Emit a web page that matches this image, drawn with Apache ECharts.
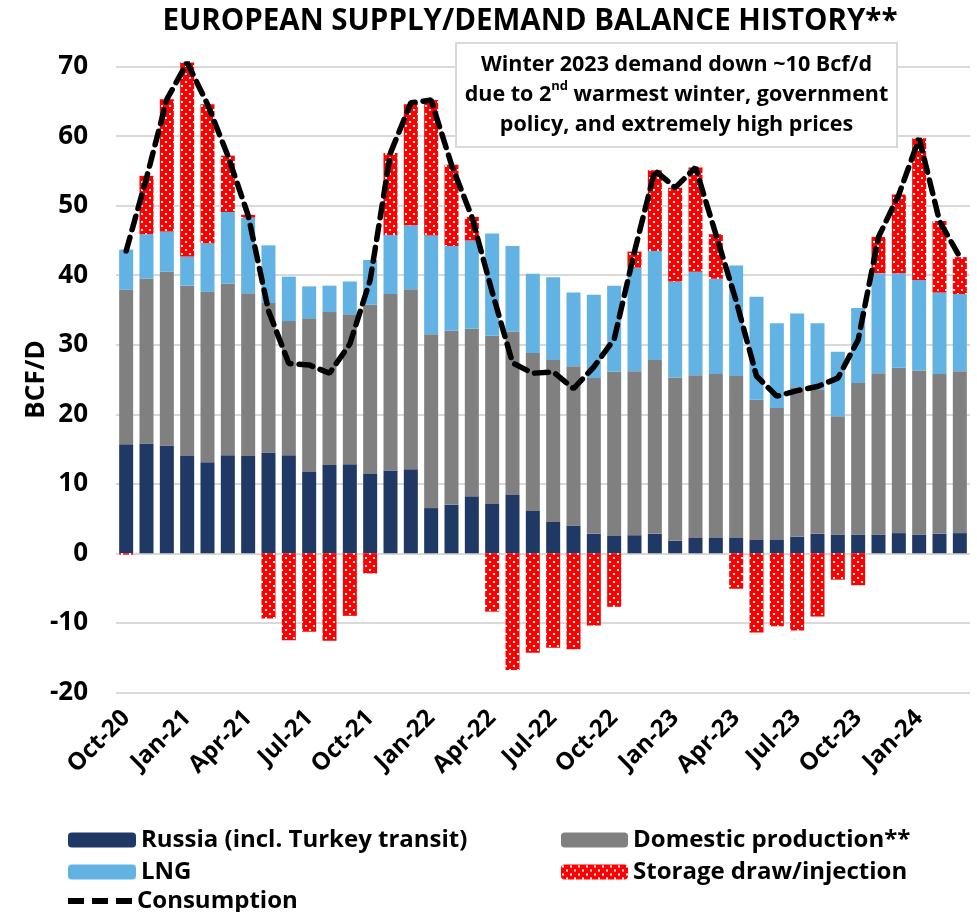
<!DOCTYPE html>
<html>
<head>
<meta charset="utf-8">
<script src="https://cdn.jsdelivr.net/npm/echarts@6/dist/echarts.min.js"></script>
<style>
  html, body { margin: 0; padding: 0; background: #fff; }
  #main { width: 977px; height: 912px; }
</style>
</head>
<body>
<div id="main"></div>
<script>
// months Oct-20 .. Mar-24
var months = ['Oct-20', 'Nov-20', 'Dec-20', 'Jan-21', 'Feb-21', 'Mar-21', 'Apr-21', 'May-21', 'Jun-21', 'Jul-21', 'Aug-21', 'Sep-21',
  'Oct-21', 'Nov-21', 'Dec-21', 'Jan-22', 'Feb-22', 'Mar-22', 'Apr-22', 'May-22', 'Jun-22', 'Jul-22', 'Aug-22', 'Sep-22',
  'Oct-22', 'Nov-22', 'Dec-22', 'Jan-23', 'Feb-23', 'Mar-23', 'Apr-23', 'May-23', 'Jun-23', 'Jul-23', 'Aug-23', 'Sep-23',
  'Oct-23', 'Nov-23', 'Dec-23', 'Jan-24', 'Feb-24', 'Mar-24']

var russia = [15.7, 15.8, 15.5, 14.0, 13.1, 14.1, 14.0, 14.5, 14.1, 11.7, 12.7, 12.8,
  11.4, 11.9, 12.1, 6.5, 7.0, 8.2, 7.1, 8.4, 6.1, 4.5, 4.0, 2.8,
  2.5, 2.6, 2.8, 1.8, 2.2, 2.2, 2.2, 2.0, 2.0, 2.4, 2.8, 2.7,
  2.7, 2.7, 2.9, 2.7, 2.8, 2.9]

var domestic = [22.2, 23.7, 25.0, 24.5, 24.5, 24.7, 23.4, 21.5, 19.3, 22.1, 22.0, 21.6,
  24.4, 25.4, 25.9, 25.0, 25.0, 24.1, 24.2, 23.5, 22.7, 23.3, 22.9, 22.4,
  23.6, 23.6, 25.0, 23.5, 23.4, 23.6, 23.3, 20.1, 18.9, 21.5, 20.7, 17.0,
  21.8, 23.2, 23.8, 23.6, 23.0, 23.3]

var lng = [5.8, 6.4, 5.8, 4.2, 7.0, 10.3, 10.9, 8.3, 6.4, 4.6, 3.8, 4.7,
  6.4, 8.5, 9.2, 14.2, 12.2, 12.7, 14.7, 12.3, 11.4, 11.9, 10.6, 12.0,
  12.4, 14.9, 15.7, 13.8, 14.9, 13.7, 15.9, 14.8, 12.2, 10.6, 9.6, 9.3,
  10.8, 14.4, 13.6, 13.0, 11.7, 11.1]

var storage = [-0.2, 8.4, 19.0, 27.9, 20.0, 8.1, 0.4, -9.4, -12.5, -11.3, -12.6, -9.0,
  -2.9, 11.8, 17.4, 19.5, 11.7, 3.4, -8.4, -16.8, -14.3, -13.6, -13.8, -10.4,
  -7.7, 2.3, 11.6, 13.5, 15.0, 6.4, -5.1, -11.4, -10.5, -11.1, -9.1, -3.8,
  -4.6, 5.2, 11.3, 20.4, 10.3, 5.3]

var consumption = [43.5, 54.0, 65.3, 70.6, 64.6, 57.2, 48.6, 34.9, 27.3, 27.1, 25.9, 30.1,
  39.3, 57.6, 64.8, 65.2, 55.9, 48.4, 37.6, 27.4, 25.9, 26.1, 23.7, 26.8,
  30.8, 43.4, 55.1, 52.6, 55.5, 45.9, 36.3, 25.5, 22.6, 23.4, 24.0, 25.2,
  30.7, 45.5, 51.6, 59.7, 47.8, 42.6]

var yTicks = [-20, -10, 0, 10, 20, 30, 40, 50, 60, 70]

var FONT = "'Open Sans', sans-serif"

// red fill with white dots
function dotPattern () {
  var c = document.createElement('canvas')
  c.width = 8
  c.height = 8
  var ctx = c.getContext('2d')
  ctx.fillStyle = '#ff0000'
  ctx.fillRect(0, 0, 8, 8)
  ctx.fillStyle = '#ffffff'
  ctx.fillRect(1, 1, 2, 2)
  ctx.fillRect(5, 5, 2, 2)
  return c
}
var dots = { image: dotPattern(), repeat: 'repeat' }

var legendText = { fontFamily: FONT, fontSize: 24, fontWeight: 'bold', color: '#000', lineHeight: 26 }

function legendItem (name, left, cy, w, icon) {
  var l = {
    left: left,
    top: cy - 13,
    itemWidth: w,
    itemHeight: 15,
    data: [name],
    textStyle: legendText
  }
  if (icon) {
    l.data = [{ name: name, icon: icon }]
    l.itemHeight = 6
    l.itemStyle = { color: '#000' }
    l.lineStyle = { width: 0 }
  }
  return l
}

var chart = echarts.init(document.getElementById('main'), null, { renderer: 'canvas' })

var barBase = { type: 'bar', stack: 'supply', barWidth: 14, clip: false }

chart.setOption({
  animation: false,
  backgroundColor: '#fff',
  title: {
    text: 'EUROPEAN SUPPLY/DEMAND BALANCE HISTORY**',
    left: 525,
    textAlign: 'center',
    top: 2,
    textStyle: { fontFamily: FONT, fontSize: 29.5, fontWeight: 'bold', color: '#000' }
  },
  grid: { left: 116, right: 7, top: 66.7, bottom: 219.7, containLabel: false },
  legend: [
    legendItem('Russia (incl. Turkey transit)', 63, 835, 68),
    legendItem('LNG', 63, 867, 68),
    legendItem('Consumption', 63, 896, 64, 'path://M0,0h16v6h-16z M24,0h16v6h-16z M48,0h16v6h-16z'),
    legendItem('Domestic production**', 556, 835, 67),
    legendItem('Storage draw/injection', 556, 867, 67)
  ],
  xAxis: {
    type: 'category',
    data: months,
    axisLine: { show: false, onZero: false },
    axisTick: { show: false },
    axisLabel: {
      interval: 2,
      rotate: 45,
      margin: 22,
      fontFamily: FONT,
      fontSize: 24,
      fontWeight: 'bold',
      color: '#000'
    }
  },
  yAxis: {
    type: 'value',
    min: yTicks[0],
    max: yTicks[yTicks.length - 1],
    interval: 10,
    name: 'BCF/D',
    nameLocation: 'middle',
    nameRotate: 90,
    nameGap: 66,
    nameMoveOverlap: false,
    nameTextStyle: { fontFamily: FONT, fontSize: 26, fontWeight: 'bold', color: '#000' },
    axisLine: { show: false },
    axisTick: { show: false },
    axisLabel: { margin: 28, fontFamily: FONT, fontSize: 26, fontWeight: 'bold', color: '#000' },
    splitLine: { lineStyle: { color: '#d9d9d9', width: 2 } }
  },
  series: [
    Object.assign({ name: 'Russia (incl. Turkey transit)', data: russia, itemStyle: { color: '#203864' } }, barBase),
    Object.assign({ name: 'Domestic production**', data: domestic, itemStyle: { color: '#808080' } }, barBase),
    Object.assign({ name: 'LNG', data: lng, itemStyle: { color: '#62b3e4' } }, barBase),
    Object.assign({ name: 'Storage draw/injection', data: storage, itemStyle: { color: dots } }, barBase),
    {
      name: 'Consumption',
      type: 'line',
      data: consumption,
      symbol: 'none',
      clip: false,
      z: 5,
      lineStyle: { color: '#000', width: 5.5, type: [14, 8], cap: 'round' },
      itemStyle: { color: '#000' }
    }
  ],
  graphic: [{
    type: 'rect',
    z: 100,
    shape: { x: 456, y: 43, width: 441, height: 104 },
    style: { fill: '#fff', stroke: '#d9d9d9', lineWidth: 2 }
  }, {
    type: 'text',
    z: 101,
    x: 676.5,
    y: 95,
    style: {
      text: 'Winter 2023 demand down ~10 Bcf/d\ndue to 2{sup|nd} warmest winter, government\npolicy, and extremely high prices',
      align: 'center',
      verticalAlign: 'middle',
      font: 'bold 21.5px ' + FONT,
      lineHeight: 30,
      fill: '#000',
      rich: {
        sup: { fontFamily: FONT, fontSize: 13, fontWeight: 'bold', verticalAlign: 'top', padding: [0, 0, 12, 0] }
      }
    }
  }]
})
</script>
</body>
</html>
